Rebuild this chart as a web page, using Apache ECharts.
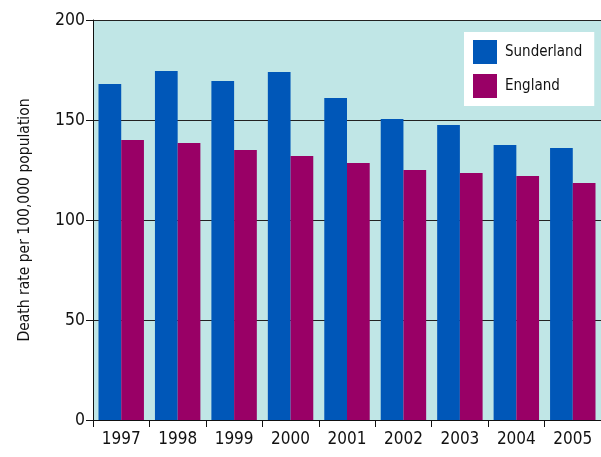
<!DOCTYPE html>
<html>
<head>
<meta charset="utf-8">
<script src="https://cdn.jsdelivr.net/npm/echarts@6/dist/echarts.min.js"></script>
<style>
  html, body { margin: 0; padding: 0; background: #fff; }
  #chart { width: 601px; height: 457px; }
</style>
</head>
<body>
<div id="chart"></div>
<script>
// Death rates per 100,000 population, Sunderland vs England
const years = ['1997', '1998', '1999', '2000', '2001', '2002', '2003', '2004', '2005'];
const sunderland = [168, 174.5, 169.5, 174, 161, 150.5, 147.5, 137.5, 136];
const england = [140, 138.5, 135, 132, 128.5, 125, 123.5, 122, 118.5];
const yTicks = [0, 50, 100, 150, 200];

const FONT = '"DejaVu Sans Condensed", "Liberation Sans Narrow", sans-serif';

const chart = echarts.init(document.getElementById('chart'), null, { renderer: 'canvas' });

chart.setOption({
  animation: false,
  textStyle: { fontFamily: FONT, color: '#111' },
  grid: {
    left: 93, right: -1, top: 20, bottom: 37,
    show: true,
    backgroundColor: '#c0e6e6',
    borderWidth: 0,
    borderColor: 'transparent'
  },
  legend: {
    orient: 'vertical',
    left: 464,
    top: 32,
    padding: [8, 12, 8, 9],
    backgroundColor: '#ffffff',
    itemWidth: 24,
    itemHeight: 24,
    itemGap: 10,
    icon: 'rect',
    textStyle: { fontFamily: FONT, fontSize: 15, color: '#111', padding: [0, 0, 0, 3] },
    data: ['Sunderland', 'England']
  },
  xAxis: {
    type: 'category',
    data: years,
    axisLine: { show: true, lineStyle: { color: '#111', width: 1 } },
    axisTick: { show: true, alignWithLabel: false, length: 7, lineStyle: { color: '#111' } },
    axisLabel: { interval: 0, fontFamily: FONT, fontSize: 17, color: '#111', margin: 11 }
  },
  yAxis: {
    type: 'value',
    min: yTicks[0],
    max: yTicks[yTicks.length - 1],
    interval: yTicks[1] - yTicks[0],
    name: 'Death rate per 100,000 population',
    nameLocation: 'middle',
    nameGap: 60,
    nameTextStyle: { fontFamily: FONT, fontSize: 15.5, color: '#111' },
    axisLine: { show: true, lineStyle: { color: '#111', width: 1 } },
    axisTick: { show: true, length: 7, lineStyle: { color: '#111' } },
    axisLabel: { fontFamily: FONT, fontSize: 17.5, color: '#111', margin: 8 },
    splitLine: { show: true, lineStyle: { color: '#222', width: 1 } }
  },
  series: [
    {
      name: 'Sunderland',
      type: 'bar',
      data: sunderland,
      itemStyle: { color: '#0057b8' },
      barGap: '0%',
      barCategoryGap: '19.5%'
    },
    {
      name: 'England',
      type: 'bar',
      data: england,
      itemStyle: { color: '#990066' },
      barGap: '0%',
      barCategoryGap: '19.5%'
    }
  ]
});
</script>
</body>
</html>
